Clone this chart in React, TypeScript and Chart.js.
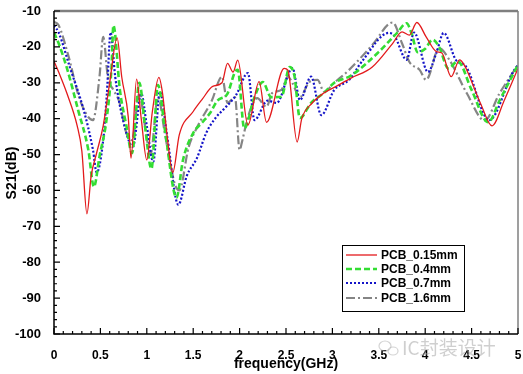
import React, { useEffect, useRef } from "react";
import { Chart, registerables } from "chart.js";
Chart.register(...registerables);

// ---------- data ----------
const seriesNames = ["PCB_0.15mm", "PCB_0.4mm", "PCB_0.7mm", "PCB_1.6mm"];

const redX = [0, 0.05, 0.14, 0.25, 0.3, 0.355, 0.4, 0.46, 0.53, 0.6, 0.68, 0.73, 0.8, 0.83, 0.89, 0.94, 1.0, 1.06, 1.13, 1.17, 1.22, 1.28, 1.35, 1.5, 1.6, 1.71, 1.81, 1.87, 1.93, 1.98, 2.09, 2.21, 2.29, 2.48, 2.52, 2.62, 2.67, 2.78, 2.9, 3.04, 3.2, 3.43, 3.65, 3.75, 3.83, 3.91, 4.01, 4.12, 4.18, 4.28, 4.37, 4.42, 4.6, 4.72, 4.85, 5.0];
const redY = [-24, -27, -33, -42, -49, -66.5, -56, -49.5, -42, -30, -17.5, -28.4, -39.5, -51, -29, -40, -51.5, -38, -28.5, -33, -45, -55, -44.5, -38, -34.5, -31, -30, -24.6, -27, -23.7, -41.8, -29.7, -41, -26, -26.5, -46.5, -40, -35.7, -33, -31, -28.7, -25.6, -19, -15.8, -16.7, -13.2, -17.2, -21.3, -21.7, -28.3, -23.6, -25, -36, -42, -35, -26];

const greenX = [0, 0.05, 0.14, 0.26, 0.37, 0.43, 0.49, 0.57, 0.62, 0.64, 0.71, 0.78, 0.84, 0.92, 0.98, 1.05, 1.12, 1.2, 1.32, 1.39, 1.5, 1.6, 1.68, 1.76, 1.87, 1.95, 1.98, 2.05, 2.16, 2.25, 2.34, 2.45, 2.54, 2.59, 2.65, 2.77, 2.91, 3.02, 3.2, 3.5, 3.7, 3.8, 3.85, 3.92, 4.0, 4.08, 4.15, 4.25, 4.35, 4.5, 4.68, 4.8, 5.0];
const greenY = [-16, -19, -26, -37.6, -48.7, -59, -50.6, -39.5, -25.6, -14, -32, -42, -49.6, -30, -42, -54, -30.6, -44, -62, -51.5, -44, -41, -38.5, -35, -33, -27, -26.4, -42.7, -34, -29.8, -34, -33.9, -25.6, -28, -39.8, -35.6, -32.8, -30, -28, -21.4, -16, -13.4, -16, -21.5, -20.5, -18, -20, -26, -24, -32, -41, -35, -25];

const blueX = [0, 0.05, 0.17, 0.32, 0.42, 0.46, 0.53, 0.57, 0.61, 0.66, 0.75, 0.85, 0.94, 1.0, 1.07, 1.14, 1.22, 1.34, 1.43, 1.54, 1.64, 1.75, 1.82, 1.96, 2.09, 2.16, 2.3, 2.4, 2.57, 2.65, 2.77, 2.88, 3.02, 3.18, 3.32, 3.61, 3.67, 3.8, 3.88, 4.03, 4.12, 4.2, 4.33, 4.44, 4.69, 4.94, 5.0];
const blueY = [-14, -16, -25.6, -37.6, -48.7, -55, -46, -33, -16, -28.4, -41, -47.8, -33, -42, -52, -32.5, -45, -64, -56, -51, -44, -39.5, -37.6, -33.5, -27.3, -40.4, -35, -35.6, -25.9, -34.8, -28.3, -39, -32, -29.2, -24, -16.1, -17, -23.6, -16, -27, -21.7, -16.1, -23.6, -25.5, -40.4, -27.3, -25];

const grayX = [0, 0.05, 0.15, 0.28, 0.42, 0.49, 0.53, 0.58, 0.64, 0.7, 0.78, 0.84, 0.92, 0.98, 1.04, 1.12, 1.2, 1.3, 1.35, 1.45, 1.55, 1.7, 1.81, 1.87, 1.95, 2.0, 2.03, 2.09, 2.19, 2.29, 2.35, 2.45, 2.52, 2.57, 2.65, 2.75, 2.84, 2.91, 3.02, 3.18, 3.43, 3.65, 3.75, 3.83, 3.94, 4.01, 4.15, 4.26, 4.45, 4.64, 4.8, 5.0];
const grayY = [-13, -14, -22, -34.8, -40.4, -28.4, -17.2, -28.4, -32, -35, -44, -46, -33, -42, -50, -34, -45, -58, -60, -48, -42, -35, -28.3, -35.6, -34, -48.7, -46, -39.5, -34.3, -36.7, -32.9, -32, -28.3, -30.1, -34, -29.8, -29.2, -32.5, -30, -26.4, -19.5, -13.2, -19, -24.2, -26.4, -29.2, -20.4, -23.6, -33, -40.5, -33, -25];

const xTickLabels = ["0", "0.5", "1", "1.5", "2", "2.5", "3", "3.5", "4", "4.5", "5"];
const xTitle = "frequency(GHz)";
const yTitle = "S21(dB)";
const watermark = "IC封装设计";

// ---------- styles ----------
const colors = ["#e31a1c", "#33dd33", "#1414c8", "#858585"];
const widths = [1.3, 2.6, 2.2, 2.2];
const dashes: number[][] = [[], [6, 3], [2, 2], [9, 3, 2, 3]];

const zip = (xs: number[], ys: number[]) => xs.map((x, i) => ({ x, y: ys[i] }));

const FONT = '"Liberation Sans", Arial, sans-serif';

const decorPlugin = {
  id: "decor",
  afterDraw(chart: any) {
    const { ctx, chartArea } = chart;
    const { left, right, top, bottom } = chartArea;
    const xs = chart.scales.x;
    const ys = chart.scales.y;
    ctx.save();
    // frame
    ctx.setLineDash([]);
    ctx.strokeStyle = "#7f7f7f";
    ctx.lineWidth = 2.5;
    ctx.beginPath();
    ctx.moveTo(left, top);
    ctx.lineTo(right, top);
    ctx.stroke();
    ctx.lineWidth = 1.5;
    ctx.beginPath();
    ctx.moveTo(right, top);
    ctx.lineTo(right, bottom);
    ctx.stroke();
    ctx.strokeStyle = "#000";
    ctx.lineWidth = 1.5;
    ctx.beginPath();
    ctx.moveTo(left, top);
    ctx.lineTo(left, bottom);
    ctx.lineTo(right, bottom);
    ctx.stroke();
    // inward ticks
    ctx.lineWidth = 1.2;
    ctx.beginPath();
    for (let i = 0; i <= 50; i++) {
      const px = xs.getPixelForValue(i / 10);
      const len = i % 5 === 0 ? 6 : 3;
      ctx.moveTo(px, bottom);
      ctx.lineTo(px, bottom - len);
    }
    for (let v = -100; v <= -10; v += 2) {
      const py = ys.getPixelForValue(v);
      const len = v % 10 === 0 ? 6 : 3;
      ctx.moveTo(left, py);
      ctx.lineTo(left + len, py);
    }
    ctx.stroke();
    // titles
    ctx.fillStyle = "#000";
    ctx.font = `bold 14px ${FONT}`;
    ctx.textAlign = "center";
    ctx.textBaseline = "middle";
    ctx.fillText(xTitle, (left + right) / 2, 364);
    ctx.save();
    ctx.translate(12, 173);
    ctx.rotate(-Math.PI / 2);
    ctx.fillText(yTitle, 0, 0);
    ctx.restore();
    // legend
    const bx = 342, by = 245, bw = 122, bh = 66;
    ctx.fillStyle = "#fff";
    ctx.fillRect(bx, by, bw, bh);
    ctx.strokeStyle = "#000";
    ctx.lineWidth = 1;
    ctx.strokeRect(bx + 0.5, by + 0.5, bw, bh);
    const rows = [255, 269, 283, 298];
    ctx.font = `bold 12px ${FONT}`;
    ctx.textAlign = "left";
    ctx.textBaseline = "middle";
    seriesNames.forEach((name, i) => {
      ctx.strokeStyle = colors[i];
      ctx.lineWidth = widths[i];
      ctx.setLineDash(dashes[i]);
      ctx.beginPath();
      ctx.moveTo(346, rows[i]);
      ctx.lineTo(377, rows[i]);
      ctx.stroke();
      ctx.setLineDash([]);
      ctx.fillStyle = "#000";
      ctx.fillText(name, 381, rows[i] + 0.5);
    });
    // watermark
    ctx.globalAlpha = 0.55;
    ctx.strokeStyle = "#b0b0b0";
    ctx.lineWidth = 1.2;
    ctx.beginPath();
    ctx.ellipse(385, 346, 6, 5, 0, 0, Math.PI * 2);
    ctx.stroke();
    ctx.beginPath();
    ctx.ellipse(393, 351, 5, 4, 0, 0, Math.PI * 2);
    ctx.stroke();
    ctx.fillStyle = "#a8a8a8";
    ctx.font = `19px "Noto Sans CJK SC", sans-serif`;
    ctx.fillText(watermark, 402, 348);
    ctx.restore();
  },
};

export default function App() {
  const ref = useRef<HTMLCanvasElement>(null);
  useEffect(() => {
    if (!ref.current) return;
    const xsData = [redX, greenX, blueX, grayX];
    const ysData = [redY, greenY, blueY, grayY];
    const chart = new Chart(ref.current, {
      type: "line",
      data: {
        datasets: seriesNames.map((name, i) => ({
          label: name,
          data: zip(xsData[i], ysData[i]),
          borderColor: colors[i],
          backgroundColor: colors[i],
          borderWidth: widths[i],
          borderDash: dashes[i],
          pointRadius: 0,
          fill: false,
          cubicInterpolationMode: "monotone" as const,
        })),
      },
      options: {
        animation: false,
        responsive: false,
        events: [],
        layout: { padding: { top: 11, right: 5, left: 0, bottom: 0 } },
        plugins: { legend: { display: false }, tooltip: { enabled: false } },
        scales: {
          x: {
            type: "linear",
            min: 0,
            max: 5,
            grid: { display: false },
            border: { display: false },
            afterFit: (s: any) => { s.height = 40; s.paddingRight = 0; s.paddingLeft = 0; },
            ticks: {
              stepSize: 0.5,
              padding: 6,
              color: "#000",
              font: { family: FONT, size: 12, weight: "bold" },
              maxRotation: 0,
              callback: (v: any) => xTickLabels[Math.round(Number(v) * 2)] ?? "",
            },
          },
          y: {
            type: "linear",
            min: -100,
            max: -10,
            grid: { display: false },
            border: { display: false },
            afterFit: (s: any) => { s.width = 54; s.paddingTop = 0; s.paddingBottom = 0; },
            ticks: {
              stepSize: 10,
              padding: 5,
              color: "#000",
              font: { family: FONT, size: 13, weight: "bold" },
            },
          },
        },
      },
      plugins: [decorPlugin],
    });
    return () => chart.destroy();
  }, []);
  return (
    <div style={{ position: "absolute", left: 0, top: 0, width: 523, height: 374, background: "#fff" }}>
      <canvas ref={ref} width={523} height={374} />
    </div>
  );
}
